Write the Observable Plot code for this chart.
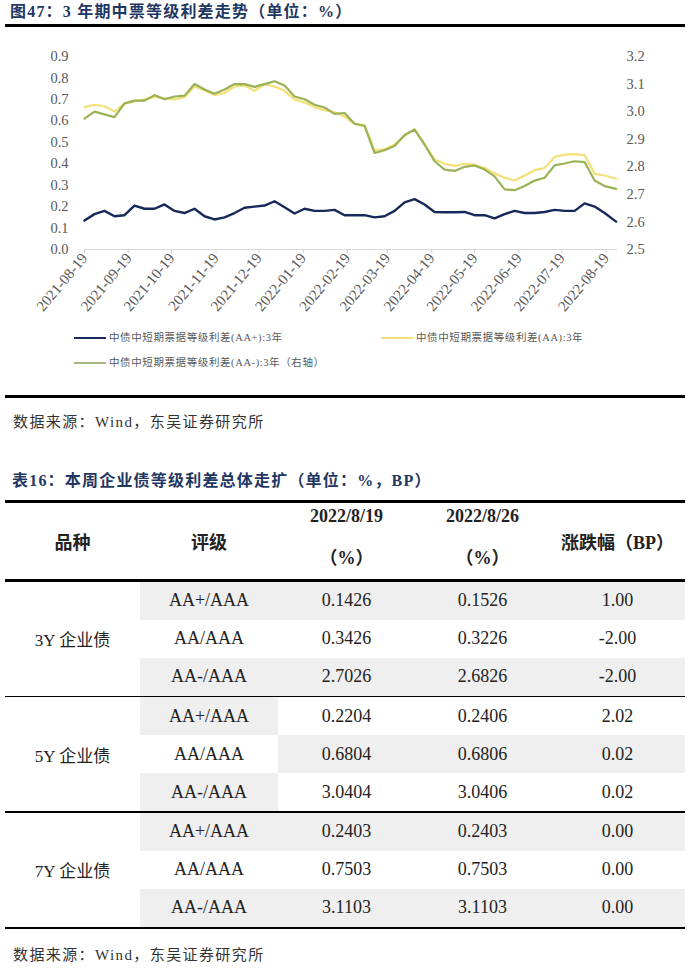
<!DOCTYPE html>
<html>
<head>
<meta charset="utf-8">
<script src="https://cdn.jsdelivr.net/npm/d3@7"></script>
<script src="https://cdn.jsdelivr.net/npm/@observablehq/plot@0.6"></script>
<style>
  body { margin: 0; background: #fff; }
  #page { position: relative; width: 690px; height: 973px; overflow: hidden; background: #fff;
          font-family: "Liberation Serif", "Noto Sans CJK SC", serif; }
  .abs { position: absolute; }
  .title { color: #1f3763; font-weight: bold; font-size: 16px; letter-spacing: 1.2px; white-space: nowrap; line-height: 20px; }
  .rule { background: #000; left: 5px; width: 680px; }
  .src { font-size: 15px; letter-spacing: 1.4px; color: #333; white-space: nowrap; line-height: 18px; }
  .leg { font-size: 10.5px; letter-spacing: 0.6px; color: #595959; white-space: nowrap; line-height: 14px; display: flex; align-items: center; }
  .sw { display: inline-block; width: 32px; height: 2.5px; margin-right: 3px; }
  .cell { position: absolute; display: flex; align-items: center; justify-content: center; color: #222;
          font-size: 18px; white-space: nowrap; }
  .hd { font-weight: bold; }
</style>
</head>
<body>
<div id="page"></div>
<script>
// ---------- chart data ----------
const dates = ["2021-08-19","2021-08-26","2021-09-02","2021-09-09","2021-09-16","2021-09-23","2021-09-30",
  "2021-10-07","2021-10-14","2021-10-21","2021-10-28","2021-11-04","2021-11-11","2021-11-18","2021-11-25",
  "2021-12-02","2021-12-09","2021-12-16","2021-12-23","2021-12-30","2022-01-06","2022-01-13","2022-01-20",
  "2022-01-27","2022-02-03","2022-02-10","2022-02-17","2022-02-24","2022-03-03","2022-03-10","2022-03-17",
  "2022-03-24","2022-03-31","2022-04-07","2022-04-14","2022-04-21","2022-04-28","2022-05-05","2022-05-12",
  "2022-05-19","2022-05-26","2022-06-02","2022-06-09","2022-06-16","2022-06-23","2022-06-30","2022-07-07",
  "2022-07-14","2022-07-21","2022-07-28","2022-08-04","2022-08-11","2022-08-18","2022-08-26"];
const aaPlus = [0.135,0.165,0.18,0.155,0.16,0.205,0.19,0.19,0.21,0.18,0.17,0.19,0.155,0.14,0.15,0.17,0.195,0.20,
  0.205,0.225,0.197,0.168,0.19,0.18,0.18,0.185,0.16,0.16,0.16,0.15,0.155,0.18,0.22,0.235,0.21,0.175,0.174,0.174,
  0.175,0.16,0.16,0.145,0.165,0.18,0.17,0.17,0.175,0.185,0.18,0.18,0.215,0.20,0.17,0.13];
const aa = [0.664,0.675,0.668,0.643,0.68,0.69,0.70,0.712,0.705,0.70,0.71,0.76,0.742,0.72,0.73,0.76,0.765,0.74,
  0.77,0.76,0.74,0.70,0.685,0.664,0.65,0.64,0.62,0.586,0.58,0.462,0.468,0.49,0.53,0.56,0.49,0.42,0.40,0.39,
  0.40,0.395,0.38,0.355,0.335,0.322,0.345,0.37,0.38,0.432,0.442,0.445,0.44,0.353,0.345,0.33];
const aaMinus = [2.975,3.0,2.99,2.98,3.03,3.04,3.04,3.06,3.045,3.055,3.058,3.10,3.08,3.065,3.08,3.10,3.10,3.09,
  3.10,3.11,3.095,3.055,3.045,3.025,3.015,2.992,2.995,2.956,2.948,2.85,2.86,2.875,2.915,2.935,2.88,2.82,2.79,
  2.785,2.80,2.805,2.79,2.765,2.718,2.715,2.73,2.75,2.76,2.805,2.812,2.82,2.817,2.75,2.73,2.72];
const leftTicks = [0, 0.1, 0.2, 0.3, 0.4, 0.5, 0.6, 0.7, 0.8, 0.9];
const rightTicks = [2.5, 2.6, 2.7, 2.8, 2.9, 3.0, 3.1, 3.2];
const monthTicks = ["2021-08-19","2021-09-19","2021-10-19","2021-11-19","2021-12-19","2022-01-19","2022-02-19",
  "2022-03-19","2022-04-19","2022-05-19","2022-06-19","2022-07-19","2022-08-19"];
const seriesNames = ["中债中短期票据等级利差(AA+):3年", "中债中短期票据等级利差(AA):3年", "中债中短期票据等级利差(AA-):3年（右轴）"];

// ---------- table data ----------
const bondTypes = ["3Y 企业债", "5Y 企业债", "7Y 企业债"];
const ratings = ["AA+/AAA", "AA/AAA", "AA-/AAA"];
const prevWeek = [[0.1426, 0.3426, 2.7026], [0.2204, 0.6804, 3.0404], [0.2403, 0.7503, 3.1103]];
const thisWeek = [[0.1526, 0.3226, 2.6826], [0.2406, 0.6806, 3.0406], [0.2403, 0.7503, 3.1103]];
const changeBP = [[1.00, -2.00, -2.00], [2.02, 0.02, 0.02], [0.00, 0.00, 0.00]];
const headerDates = ["2022/8/19", "2022/8/26"];

// ---------- page ----------
const page = document.getElementById("page");
function add(cls, css, html) {
  const el = document.createElement("div");
  el.className = "abs " + cls;
  Object.assign(el.style, css);
  if (html !== undefined) el.innerHTML = html;
  page.appendChild(el);
  return el;
}
const navy = "#15295a", yellow = "#f4df78", green = "#99b256";

add("title", {left: "10px", top: "2px"}, "图47：3 年期中票等级利差走势（单位：%）");
add("rule", {top: "24px", height: "3px"});

const parse = d3.utcParse("%Y-%m-%d");
const toLeft = r => (r - 2.5) * 0.9 / 0.7;
const rows = dates.map((d, i) => ({date: parse(d), aaPlus: aaPlus[i], aa: aa[i], aaMinus: toLeft(aaMinus[i])}));

const chart = Plot.plot({
  width: 690, height: 290,
  marginLeft: 84, marginRight: 73, marginTop: 16, marginBottom: 81,
  style: {fontFamily: "Liberation Serif", fontSize: "14.5px", color: "#595959", background: "transparent", overflow: "visible"},
  x: {type: "utc", domain: [parse("2021-08-19"), parse("2022-08-27")]},
  y: {domain: [0, 0.9]},
  marks: [
    Plot.ruleY([0], {stroke: "#d9d9d9", strokeWidth: 1}),
    Plot.axisX({ticks: monthTicks.map(parse), tickFormat: d3.utcFormat("%Y-%m-%d"), tickRotate: -50,
                tickSize: 4, tickPadding: 2, stroke: "#cfcfcf", fill: "#595959", label: null, fontSize: 15}),
    Plot.axisY({ticks: leftTicks, tickFormat: d => d.toFixed(1), tickSize: 0, tickPadding: 16, label: null, fill: "#595959"}),
    Plot.axisY({anchor: "right", ticks: rightTicks.map(toLeft), tickFormat: d => (d * 0.7 / 0.9 + 2.5).toFixed(1),
                tickSize: 0, tickPadding: 9, label: null, fill: "#595959"}),
    Plot.line(rows, {x: "date", y: "aaPlus", stroke: navy, strokeWidth: 2.4}),
    Plot.line(rows, {x: "date", y: "aa", stroke: yellow, strokeWidth: 2.2}),
    Plot.line(rows, {x: "date", y: "aaMinus", stroke: green, strokeWidth: 2.2})
  ]
});
const holder = add("", {left: "0px", top: "40px"});
holder.appendChild(chart);

// legend
const legColors = [navy, yellow, "#a6b884"];
const legPos = [[74, 331], [381, 331], [74, 356]];
seriesNames.forEach((n, i) => {
  add("leg", {left: legPos[i][0] + "px", top: legPos[i][1] + "px"},
      `<span class="sw" style="background:${legColors[i]}"></span>${n}`);
});

add("rule", {top: "395px", height: "3px"});
add("src", {left: "13px", top: "413px"}, "数据来源：Wind，东吴证券研究所");

add("title", {left: "12px", top: "471px"}, "表16：本周企业债等级利差总体走扩（单位：%，BP）");

// table
const colX = [5, 140, 278, 415, 550, 685];
function cell(c0, c1, top, h, html, extra) {
  return add("cell" + (extra ? " " + extra : ""), {
    left: colX[c0] + "px", width: (colX[c1] - colX[c0]) + "px", top: top + "px", height: h + "px"
  }, html);
}
add("rule", {top: "500px", height: "2.5px"});
cell(0, 1, 502.5, 77, "品种", "hd");
cell(1, 2, 502.5, 77, "评级", "hd");
headerDates.forEach((d, i) => {
  cell(2 + i, 3 + i, 497, 39, d, "hd");
  cell(2 + i, 3 + i, 536, 39, "（%）", "hd");
});
cell(4, 5, 502.5, 77, "涨跌幅（BP）", "hd");
add("rule", {top: "579px", height: "2.5px"});

const rowH = 38;
const groupTops = [581.5, 697, 812.5];
const grey = "#efefef";
const shade = [
  [[1, 1], [0, 0], [1, 1]],
  [[1, 0], [0, 1], [1, 0]],
  [[1, 1], [0, 0], [1, 1]]
];
bondTypes.forEach((bt, g) => {
  const gt = groupTops[g];
  ratings.forEach((r, k) => {
    const top = gt + k * rowH;
    const s = shade[g][k];
    const c1 = cell(1, 2, top, rowH, r);
    if (s[0]) c1.style.background = grey;
    const vals = [prevWeek[g][k].toFixed(4), thisWeek[g][k].toFixed(4), changeBP[g][k].toFixed(2)];
    vals.forEach((v, j) => {
      const c = cell(2 + j, 3 + j, top, rowH, v);
      if (s[1]) c.style.background = grey;
    });
  });
  cell(0, 1, gt, rowH * 3, bt).style.fontSize = "17px";
  if (g < 2) add("rule", {top: (gt + rowH * 3) + "px", height: "1.5px"});
});
add("rule", {top: "926.5px", height: "2.5px"});
add("src", {left: "13px", top: "946px"}, "数据来源：Wind，东吴证券研究所");
</script>
</body>
</html>
